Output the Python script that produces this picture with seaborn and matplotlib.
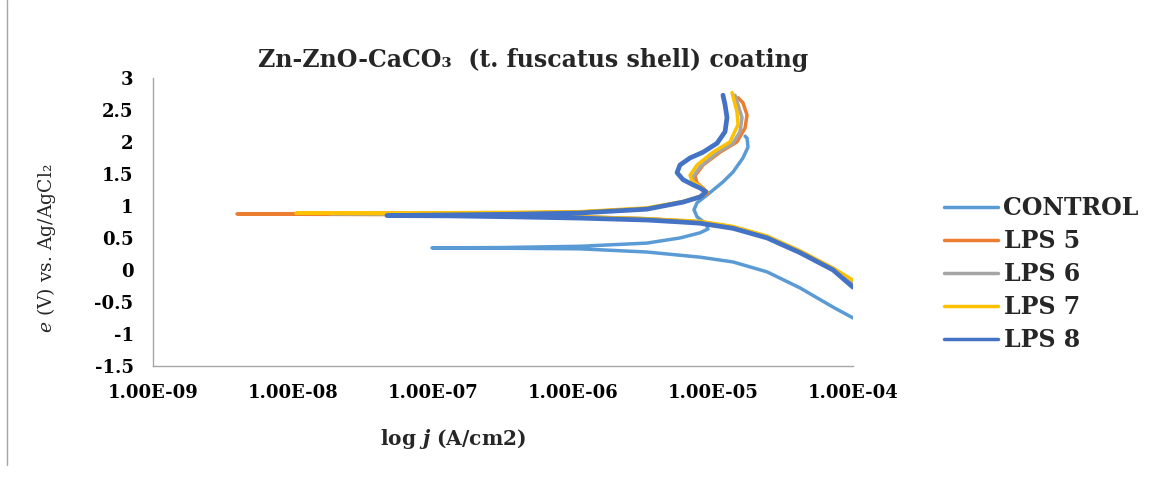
import numpy as np
import matplotlib
matplotlib.use('Agg')
import matplotlib.pyplot as plt
import seaborn as sns
from matplotlib.lines import Line2D

# Series names and colours
series = ['CONTROL', 'LPS 5', 'LPS 6', 'LPS 7', 'LPS 8']
colors = ['#5B9BD5', '#ED7D31', '#A5A5A5', '#FFC000', '#4472C4']

# log10 of current density (A/cm2) and potential (V):
# cathodic end -> corrosion tip -> anodic / passive branch
control_logj = [-4.0, -4.143, -4.379, -4.614, -4.857, -5.093, -5.236, -5.471, -5.95, -6.52, -7.007,
                -6.52, -5.95, -5.471, -5.236, -5.093, -5.036, -5.05, -5.114, -5.136, -5.114, -5.043,
                -4.929, -4.857, -4.786, -4.75, -4.757, -4.771]
control_e = [-0.75, -0.58, -0.28, -0.03, 0.125, 0.20, 0.23, 0.28, 0.33, 0.34, 0.345,
             0.35, 0.37, 0.42, 0.50, 0.58, 0.64, 0.72, 0.83, 0.94, 1.05, 1.17,
             1.375, 1.53, 1.75, 1.92, 2.06, 2.09]

lps5_logj = [-4.0, -4.143, -4.379, -4.614, -4.857, -5.093, -5.471, -5.95, -6.521, -7.236, -7.95, -8.4,
             -7.95, -7.236, -6.429, -5.95, -5.471, -5.214, -5.093, -5.036, -5.071, -5.114, -5.129,
             -5.071, -4.95, -4.829, -4.771, -4.757, -4.786, -4.821]
lps5_e = [-0.20, 0.02, 0.29, 0.52, 0.67, 0.75, 0.80, 0.83, 0.85, 0.865, 0.87, 0.875,
          0.88, 0.885, 0.89, 0.905, 0.96, 1.06, 1.14, 1.20, 1.28, 1.36, 1.47,
          1.64, 1.84, 2.00, 2.22, 2.42, 2.61, 2.69]

lps6_logj = [-4.0, -4.143, -4.379, -4.614, -4.857, -5.093, -5.471, -5.95, -6.521, -7.236, -7.736,
             -7.236, -6.429, -5.95, -5.471, -5.214, -5.093, -5.043, -5.093, -5.143, -5.143, -5.093,
             -4.971, -4.857, -4.807, -4.793, -4.843]
lps6_e = [-0.19, 0.02, 0.29, 0.52, 0.67, 0.75, 0.80, 0.83, 0.855, 0.87, 0.88,
          0.885, 0.89, 0.905, 0.96, 1.06, 1.14, 1.21, 1.29, 1.37, 1.45, 1.61,
          1.83, 1.98, 2.16, 2.38, 2.73]

lps7_logj = [-4.0, -4.143, -4.379, -4.614, -4.857, -5.093, -5.471, -5.95, -6.521, -7.236, -7.979,
             -7.236, -6.429, -5.95, -5.471, -5.214, -5.093, -5.043, -5.093, -5.15, -5.164, -5.114,
             -5.0, -4.879, -4.821, -4.829, -4.864]
lps7_e = [-0.16, 0.03, 0.30, 0.53, 0.68, 0.76, 0.80, 0.83, 0.86, 0.88, 0.886,
          0.89, 0.90, 0.91, 0.97, 1.07, 1.15, 1.22, 1.31, 1.39, 1.48, 1.64,
          1.84, 2.00, 2.27, 2.47, 2.77]

lps8_logj = [-4.0, -4.143, -4.379, -4.614, -4.857, -5.093, -5.236, -5.471, -5.95, -6.429, -6.879, -7.329,
             -6.879, -6.429, -5.95, -5.471, -5.214, -5.093, -5.05, -5.093, -5.143, -5.214, -5.257,
             -5.236, -5.164, -5.071, -4.971, -4.914, -4.9, -4.914, -4.929]
lps8_e = [-0.27, 0.0, 0.27, 0.50, 0.65, 0.73, 0.75, 0.78, 0.81, 0.83, 0.845, 0.85,
          0.86, 0.87, 0.89, 0.95, 1.06, 1.14, 1.22, 1.28, 1.33, 1.41, 1.52,
          1.64, 1.75, 1.84, 1.98, 2.16, 2.38, 2.58, 2.73]

x_ticks = [1e-9, 1e-8, 1e-7, 1e-6, 1e-5, 1e-4]
x_ticklabels = ['1.00E-09', '1.00E-08', '1.00E-07', '1.00E-06', '1.00E-05', '1.00E-04']
y_ticks = [-1.5, -1, -0.5, 0, 0.5, 1, 1.5, 2, 2.5, 3]
y_ticklabels = ['-1.5', '-1', '-0.5', '0', '0.5', '1', '1.5', '2', '2.5', '3']

sns.set_style('white')
plt.rcParams['font.family'] = ['DejaVu Serif', 'DejaVu Sans']
plt.rcParams['axes.unicode_minus'] = False
plt.rcParams['mathtext.fontset'] = 'custom'
plt.rcParams['mathtext.it'] = 'DejaVu Serif:italic'
plt.rcParams['mathtext.bfit'] = 'DejaVu Serif:italic:bold'

fig = plt.figure(figsize=(11.59, 4.87), dpi=100)
ax = fig.add_axes([0.132, 0.2485, 0.604, 0.5915])

all_logj = [control_logj, lps5_logj, lps6_logj, lps7_logj, lps8_logj]
all_e = [control_e, lps5_e, lps6_e, lps7_e, lps8_e]
widths = [2.5, 2.5, 2.5, 2.5, 3.4]

for name, c, lj, e, w in zip(series, colors, all_logj, all_e, widths):
    sns.lineplot(x=np.power(10.0, lj), y=e, sort=False, estimator=None,
                 color=c, linewidth=w, ax=ax, legend=False)

ax.set_xscale('log')
ax.set_xlim(1e-9, 1e-4)
ax.set_ylim(-1.5, 3)
ax.set_xticks(x_ticks)
ax.set_xticklabels(x_ticklabels)
ax.minorticks_off()
ax.set_yticks(y_ticks)
ax.set_yticklabels(y_ticklabels)

for side in ['top', 'right']:
    ax.spines[side].set_visible(False)
for side in ['left', 'bottom']:
    ax.spines[side].set_color('#A6A6A6')
    ax.spines[side].set_linewidth(1.0)

ax.tick_params(axis='both', which='major', direction='out', length=5, width=1.0,
               color='#A6A6A6', labelcolor='black', labelsize=13)
ax.tick_params(axis='y', pad=9)
ax.tick_params(axis='x', pad=8)
for lab in ax.get_xticklabels() + ax.get_yticklabels():
    lab.set_fontweight('bold')

ax.set_xlabel(r'log $\mathbfit{j}$ (A/cm2)', fontsize=14.5, fontweight='bold')
ax.xaxis.set_label_coords(0.4286, -0.212)
ax.set_ylabel('$e$ (V) vs. Ag/AgCl\u2082', fontsize=13.5)
ax.yaxis.set_label_coords(-0.135, 0.41)

fig.text(533 / 1159, 1 - 60 / 487, 'Zn-ZnO-CaCO\u2083  (t. fuscatus shell) coating',
         ha='center', va='center', fontsize=17, fontweight='bold')

handles = [Line2D([], [], color=c, linewidth=2.5) for c in colors]
fig.legend(handles, series, loc='upper left', bbox_to_anchor=(944 / 1159, 1 - 196 / 487),
           frameon=False, borderpad=0, borderaxespad=0, handlelength=2.3,
           handletextpad=0.22, labelspacing=0.38, prop={'weight': 'bold', 'size': 17})

# thin grey border line at the far left of the picture
fig.add_artist(Line2D([7 / 1159, 7 / 1159], [0.045, 1.0], color='#A6A6A6', linewidth=1.0))

fig.savefig('out.png', dpi=100)
